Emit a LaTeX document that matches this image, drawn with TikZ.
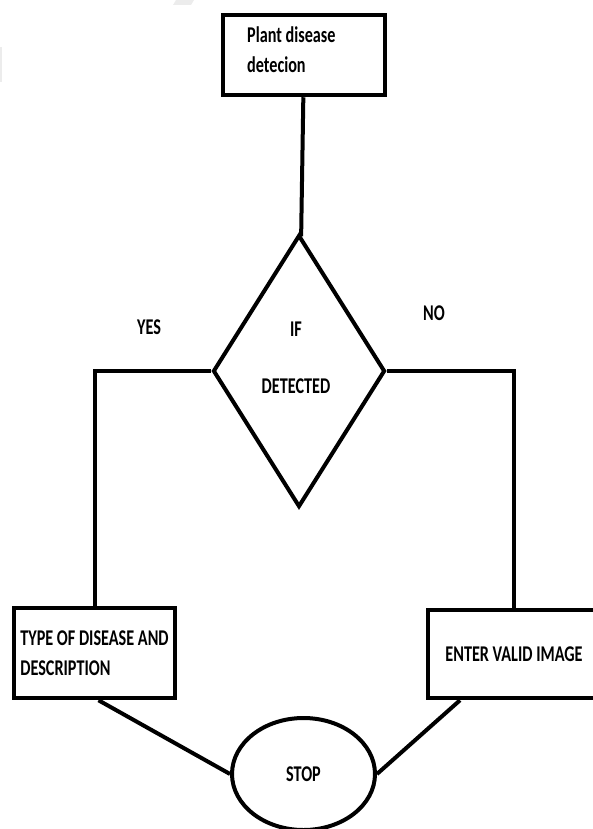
\documentclass[tikz,border=0pt]{standalone}
\usepackage{fontspec}
\setmainfont{Carlito}
\newfontfamily\chartfont[FakeStretch=0.72]{Carlito}
\usetikzlibrary{shapes.geometric}

\tikzset{
  chart text/.style={font=\chartfont\bfseries\fontsize{22.5}{30}\selectfont},
  procbox/.style={draw, rectangle, line width=4.5pt, inner sep=0pt, chart text},
  decision/.style={draw, diamond, aspect=0.63, line width=4pt, inner sep=0pt},
  terminal/.style={draw, ellipse, line width=4pt, inner sep=0pt, chart text},
  flowline/.style={line width=4pt}
}

\begin{document}
\begin{tikzpicture}[x=1pt, y=-1pt]
        \useasboundingbox (0,0) rectangle (592,829);

        % faint watermark remains
        \fill[gray!15] (176,0) -- (194,0) -- (191,5) -- (173,5) -- cycle;
        \fill[gray!15] (0,47) rectangle (1.5,82);

        % Start box
        \node[procbox, minimum width=162pt, minimum height=80pt] (start) at (304,55) {};
        \node[chart text, anchor=west, align=left, inner sep=0pt] (starttext) at (247,50) {Plant disease\\detecion};

        % Decision
        \node[decision, minimum width=172pt, minimum height=272pt] (cond) at (299,371) {};
        \node[chart text, align=center, inner sep=0pt] (condtext) at (296,358) {IF\\[27pt]DETECTED};
        \node[chart text] (yes) at (149,327) {YES};
        \node[chart text] (no) at (434,313) {NO};

        % Outcomes
        \node[procbox, minimum width=161pt, minimum height=90pt, align=left] (disease) at (94.5,653) {TYPE OF DISEASE AND\\DESCRIPTION};
        \node[procbox, minimum width=172pt, minimum height=88pt] (valid) at (514,654) {ENTER VALID IMAGE};

        % End
        \node[terminal, minimum width=143pt, minimum height=112pt] (stop) at (303.5,774) {STOP};

        % Connectors
        \draw[flowline] (start) -- (cond);
        \draw[flowline] (cond.west) -| (disease.north);
        \draw[flowline] (cond.east) -| (valid.north);
        \draw[flowline] ([xshift=4pt]disease.south) -- (stop.west);
        \draw[flowline] ([xshift=-54pt]valid.south) -- (stop.east);
    \end{tikzpicture}
\end{document}
